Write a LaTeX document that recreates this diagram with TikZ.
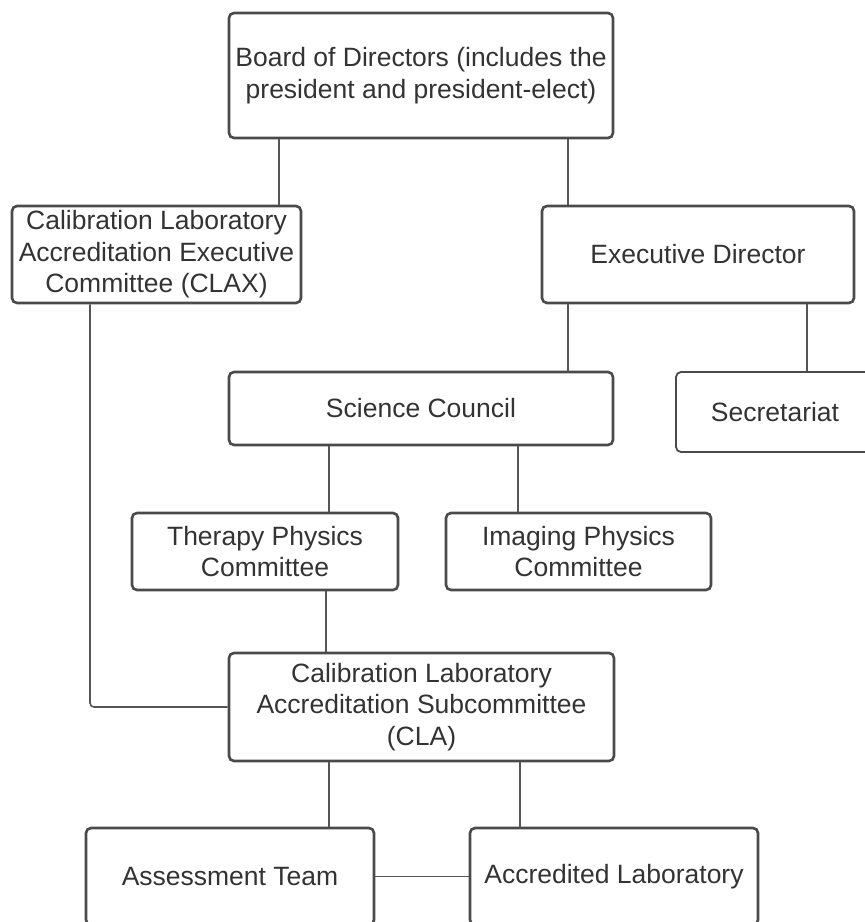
\documentclass[tikz,border=0pt]{standalone}
\usepackage{fontspec}
\setmainfont{Liberation Sans}
\definecolor{boxc}{HTML}{4A4A4A}
\definecolor{linec}{HTML}{555555}
\definecolor{txtc}{HTML}{333333}
\begin{document}
\begin{tikzpicture}[x=1pt,y=-1pt,
  box/.style={draw=boxc, line width=2.6pt, rounded corners=5pt, align=center,
    font=\fontsize{26.5}{31.5}\selectfont, text=txtc, inner sep=0pt, fill=white},
  link/.style={draw=linec, line width=1.6pt}]
\useasboundingbox (0,0) rectangle (865,922);
\clip (0,0) rectangle (865,922);
% nodes
\node[box, minimum width=384, minimum height=125] (board) at (421,75.5)
  {Board of Directors (includes the\\president and president-elect)};
\node[box, minimum width=289, minimum height=97] (clax) at (156.5,254.5)
  {Calibration Laboratory\\Accreditation Executive\\Committee (CLAX)};
\node[box, minimum width=312, minimum height=97] (exec) at (698,254.5)
  {Executive Director};
\node[box, minimum width=384, minimum height=73] (sci) at (421,408.5)
  {Science Council};
\node[box, line width=1.8pt, minimum width=198, minimum height=80] (sec) at (775,412)
  {Secretariat};
\node[box, minimum width=266, minimum height=77] (ther) at (265,551.5)
  {Therapy Physics\\Committee};
\node[box, minimum width=265, minimum height=77] (img) at (578.5,551.5)
  {Imaging Physics\\Committee};
\node[box, minimum width=385, minimum height=108] (cla) at (421.5,707)
  {Calibration Laboratory\\Accreditation Subcommittee\\(CLA)};
\node[box, minimum width=288, minimum height=97] (at) at (230,876.5)
  {Assessment Team};
\node[box, minimum width=288, minimum height=97] (al) at (614,876.5)
  {Accredited Laboratory};
% x positions of connectors
\coordinate (xa) at (279,0);
\coordinate (xb) at (568,0);
\coordinate (xc) at (807,0);
\coordinate (xd) at (329,0);
\coordinate (xe) at (518,0);
\coordinate (xf) at (326,0);
\coordinate (xg) at (90,0);
\coordinate (xh) at (520,0);
% connectors
\draw[link] (board.south -| xa) -- (clax.north -| xa);
\draw[link] (board.south -| xb) -- (exec.north -| xb);
\draw[link] (exec.south -| xb) -- (sci.north -| xb);
\draw[link] (exec.south -| xc) -- (sec.north -| xc);
\draw[link] (sci.south -| xd) -- (ther.north -| xd);
\draw[link] (sci.south -| xe) -- (img.north -| xe);
\draw[link] (ther.south -| xf) -- (cla.north -| xf);
\draw[link, rounded corners=4pt] (clax.south -| xg) |- (cla.west);
\draw[link] (cla.south -| xd) -- (at.north -| xd);
\draw[link] (cla.south -| xh) -- (al.north -| xh);
\draw[link] (at.east) -- (al.west);
\end{tikzpicture}
\end{document}
